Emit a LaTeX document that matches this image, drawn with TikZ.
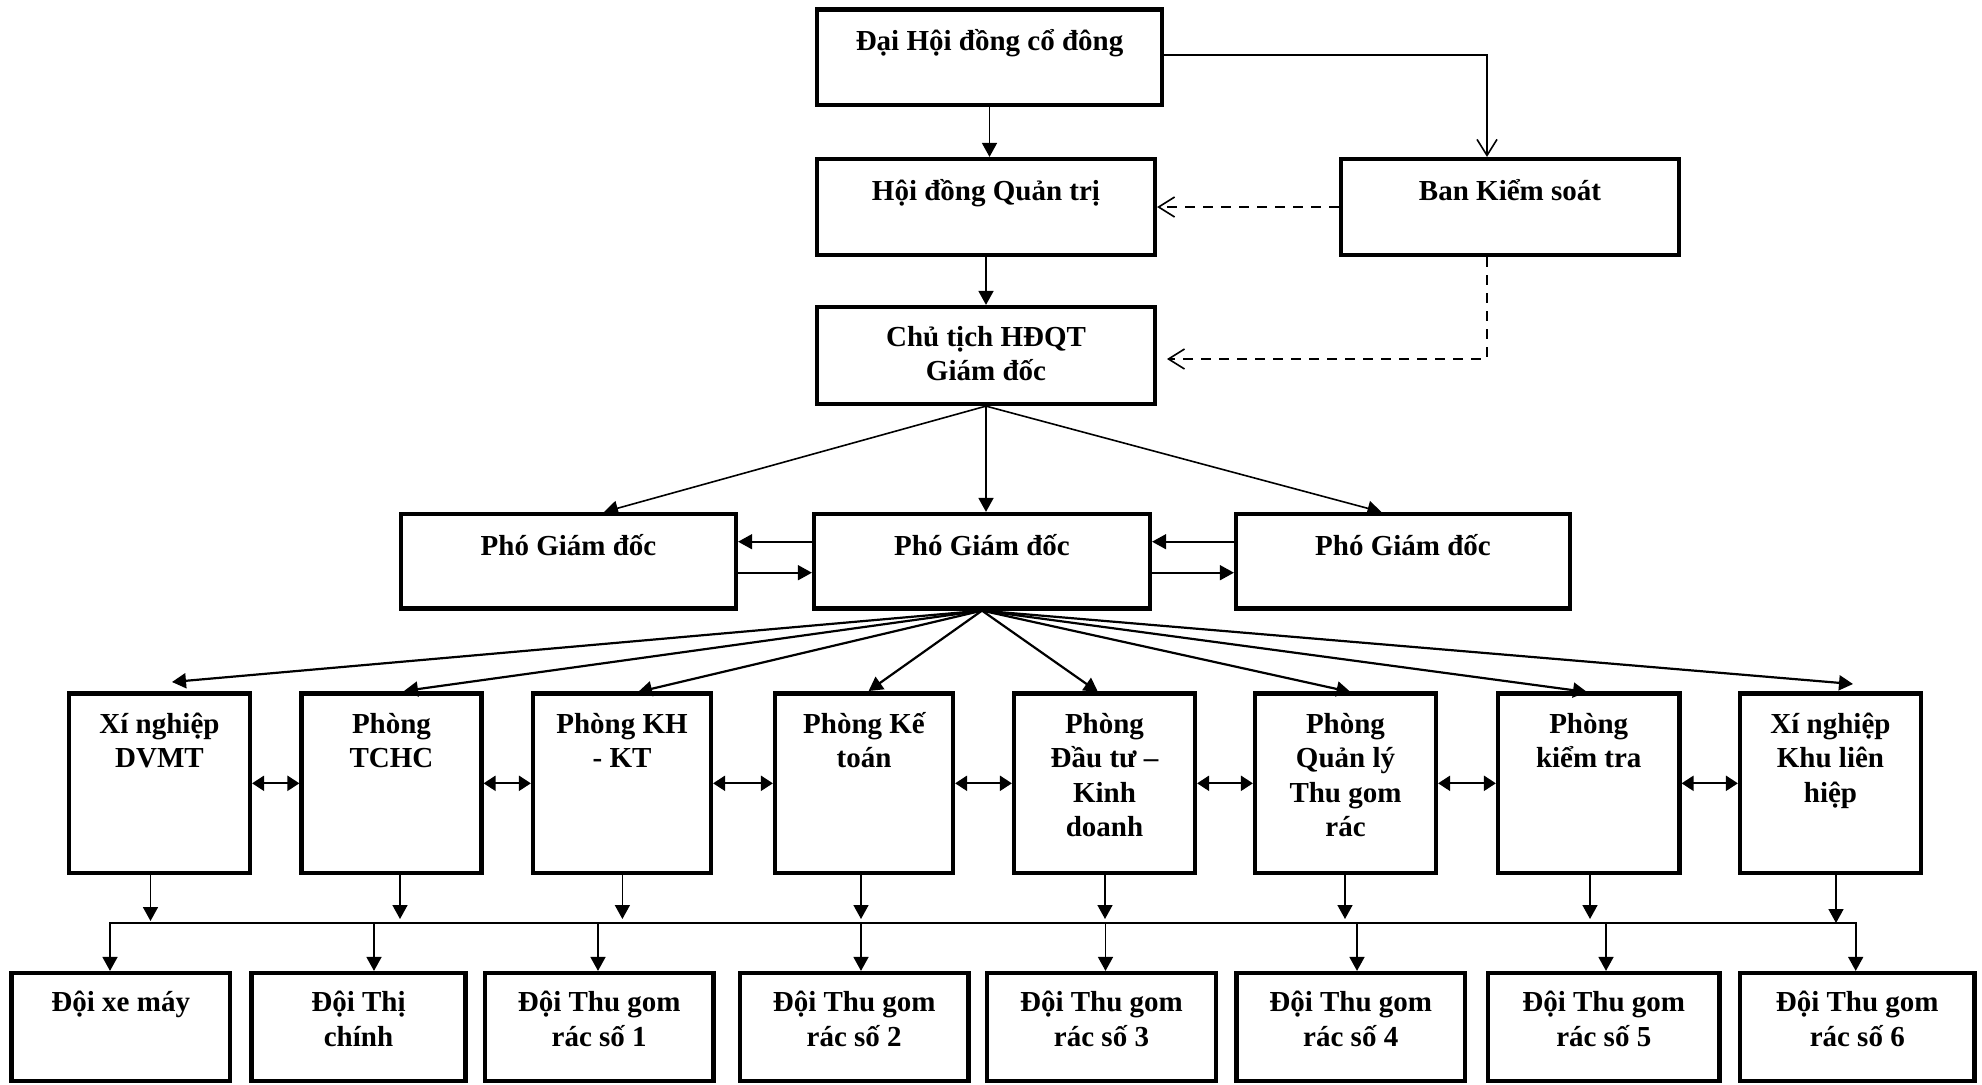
\documentclass[tikz,border=0pt]{standalone}
\usepackage{fontspec}
\setmainfont{Liberation Serif}
\usetikzlibrary{arrows.meta,fit,calc}
\newcommand\myfont{\fontsize{14.5}{17.2}\selectfont\bfseries\lineskiplimit=-30pt\lineskip=0pt\relax}
\newcommand\mystrut{\rule{0pt}{18pt}}
\begin{document}
\begin{tikzpicture}[x=0.5pt,y=-0.5pt,
 box/.style={draw, line width=2.1pt, inner sep=0pt},
 lbl/.style={anchor=north, inner sep=0pt, align=center, font=\myfont},
 arr/.style={line width=0.8pt, -{Triangle[length=7pt,width=7.5pt]}},
 fan/.style={line width=1.1pt, -{Triangle[length=7pt,width=7.5pt]}},
 dbl/.style={line width=1.1pt, {Triangle[length=6pt,width=7.5pt]}-{Triangle[length=6pt,width=7.5pt]}},
 barb/.style={line width=0.8pt, -{Straight Barb[length=8pt,width=10pt]}},
 dsh/.style={barb, dash pattern=on 5pt off 4pt}]
\useasboundingbox (0,0) rectangle (1982,1084);
% top boxes
\node[box, fit={(817,9.5) (1162,105)}] (A) {};
\node[box, fit={(817,159) (1155,255)}] (B) {};
\node[box, fit={(1341,159) (1679,255)}] (C) {};
\node[box, fit={(817,307) (1155,404)}] (D) {};
\node[box, fit={(401,514) (736,608.5)}] (P1) {};
\node[box, fit={(814,514) (1150,608.5)}] (P2) {};
\node[box, fit={(1236,514) (1570,608.5)}] (P3) {};
% row 3
\node[box, fit={(69,693.5) (250,873)}] (R1) {};
\node[box, fit={(301.5,693.5) (481.5,873)}] (R2) {};
\node[box, fit={(533,693.5) (711,873)}] (R3) {};
\node[box, fit={(775,693.5) (953,873)}] (R4) {};
\node[box, fit={(1014,693.5) (1195,873)}] (R5) {};
\node[box, fit={(1255,693.5) (1436,873)}] (R6) {};
\node[box, fit={(1498,693.5) (1679.5,873)}] (R7) {};
\node[box, fit={(1740,693.5) (1921,873)}] (R8) {};
% row 4
\node[box, fit={(11.5,973) (230,1081)}] (Q1) {};
\node[box, fit={(251.5,973) (465.5,1081)}] (Q2) {};
\node[box, fit={(485,973) (713.5,1081)}] (Q3) {};
\node[box, fit={(740,973) (968.5,1081)}] (Q4) {};
\node[box, fit={(987,973) (1216,1081)}] (Q5) {};
\node[box, fit={(1236.5,973) (1465,1081)}] (Q6) {};
\node[box, fit={(1488,973) (1719.5,1081)}] (Q7) {};
\node[box, fit={(1740,973) (1974.5,1081)}] (Q8) {};
% labels
\node[lbl] (At) at (A.center |- 0,14) {\mystrut Đại Hội đồng cổ đông};
\node[lbl] (Bt) at (B.center |- 0,164) {\mystrut Hội đồng Quản trị};
\node[lbl] (Ct) at (C.center |- 0,164) {\mystrut Ban Kiểm soát};
\node[lbl] (Dt) at (D.center |- 0,310) {\mystrut Chủ tịch HĐQT\\Giám đốc};
\node[lbl] (P1t) at (P1.center |- 0,519) {\mystrut Phó Giám đốc};
\node[lbl] (P2t) at (P2.center |- 0,519) {\mystrut Phó Giám đốc};
\node[lbl] (P3t) at (P3.center |- 0,519) {\mystrut Phó Giám đốc};
\node[lbl] (R1t) at (R1.center |- 0,697) {\mystrut Xí nghiệp\\DVMT};
\node[lbl] (R2t) at (R2.center |- 0,697) {\mystrut Phòng\\TCHC};
\node[lbl] (R3t) at (R3.center |- 0,697) {\mystrut Phòng KH\\- KT};
\node[lbl] (R4t) at (R4.center |- 0,697) {\mystrut Phòng Kế\\toán};
\node[lbl] (R5t) at (R5.center |- 0,697) {\mystrut Phòng\\Đầu tư –\\Kinh\\doanh};
\node[lbl] (R6t) at (R6.center |- 0,697) {\mystrut Phòng\\Quản lý\\Thu gom\\rác};
\node[lbl] (R7t) at (R7.center |- 0,697) {\mystrut Phòng\\kiểm tra};
\node[lbl] (R8t) at (R8.center |- 0,697) {\mystrut Xí nghiệp\\Khu liên\\hiệp};
\node[lbl] (Q1t) at (Q1.center |- 0,975.5) {\mystrut Đội xe máy};
\node[lbl] (Q2t) at (Q2.center |- 0,975.5) {\mystrut Đội Thị\\chính};
\node[lbl] (Q3t) at (Q3.center |- 0,975.5) {\mystrut Đội Thu gom\\rác số 1};
\node[lbl] (Q4t) at (Q4.center |- 0,975.5) {\mystrut Đội Thu gom\\rác số 2};
\node[lbl] (Q5t) at (Q5.center |- 0,975.5) {\mystrut Đội Thu gom\\rác số 3};
\node[lbl] (Q6t) at (Q6.center |- 0,975.5) {\mystrut Đội Thu gom\\rác số 4};
\node[lbl] (Q7t) at (Q7.center |- 0,975.5) {\mystrut Đội Thu gom\\rác số 5};
\node[lbl] (Q8t) at (Q8.center |- 0,975.5) {\mystrut Đội Thu gom\\rác số 6};
% top connectors
\draw[arr] (A.south) -- (A.south |- B.north);
\draw[arr] (B.south) -- (B.south |- D.north);
\coordinate (ac) at (1487,55);
\draw[barb] (A.east |- ac) -- (ac) -- (ac |- C.north);
\draw[dsh] (C.west |- 0,207) -- (B.east |- 0,207);
\coordinate (cd) at (1487,359);
\coordinate (cdend) at (1167,359);
\draw[dsh] (C.south -| cd) -- (cd) -- (cdend);
% D to P
\coordinate (t1) at (604,512);
\coordinate (t3) at (1381.5,512);
\draw[arr] (D.south) -- (t1);
\draw[arr] (D.south) -- (D.south |- P2.north);
\draw[arr] (D.south) -- (t3);
% P horizontals
\draw[arr] (P2.west |- 0,541.7) -- (P1.east |- 0,541.7);
\draw[arr] (P1.east |- 0,572.7) -- (P2.west |- 0,572.7);
\draw[arr] (P3.west |- 0,541.7) -- (P2.east |- 0,541.7);
\draw[arr] (P2.east |- 0,572.7) -- (P3.west |- 0,572.7);
% fan
\coordinate (f1) at (172,682);
\coordinate (f2) at (404,691);
\coordinate (f3) at (638,692);
\coordinate (f4) at (868.6,691);
\coordinate (f5) at (1098,692);
\coordinate (f6) at (1350.5,692);
\coordinate (f7) at (1587,692);
\coordinate (f8) at (1853,684);
\foreach \i in {1,...,8} {\draw[fan] (P2.south) -- (f\i);}
% double arrows row 3
\draw[dbl] (R1.east |- 0,783.3) -- (R2.west |- 0,783.3);
\draw[dbl] (R2.east |- 0,783.3) -- (R3.west |- 0,783.3);
\draw[dbl] (R3.east |- 0,783.3) -- (R4.west |- 0,783.3);
\draw[dbl] (R4.east |- 0,783.3) -- (R5.west |- 0,783.3);
\draw[dbl] (R5.east |- 0,783.3) -- (R6.west |- 0,783.3);
\draw[dbl] (R6.east |- 0,783.3) -- (R7.west |- 0,783.3);
\draw[dbl] (R7.east |- 0,783.3) -- (R8.west |- 0,783.3);
% row 3 to bus
\coordinate (u1) at (150.5,921);
\coordinate (u2) at (400,919);
\coordinate (u3) at (622.4,919);
\coordinate (u4) at (861,919);
\coordinate (u5) at (1105,919);
\coordinate (u6) at (1345,919);
\coordinate (u7) at (1590,919);
\coordinate (u8) at (1836,923);
\foreach \i in {1,...,8} {\draw[arr] (R\i.south -| u\i) -- (u\i);}
% bus
\coordinate (d1) at (110,922.7);
\coordinate (d2) at (374,922.7);
\coordinate (d3) at (598,922.7);
\coordinate (d4) at (861,922.7);
\coordinate (d5) at (1105.5,922.7);
\coordinate (d6) at (1357,922.7);
\coordinate (d7) at (1606,922.7);
\coordinate (d8) at (1855.7,922.7);
\draw[line width=0.8pt, line cap=rect] (d1) -- (d8);
\foreach \i in {1,...,8} {\draw[arr] (d\i) -- (d\i |- Q\i.north);}
\end{tikzpicture}
\end{document}
